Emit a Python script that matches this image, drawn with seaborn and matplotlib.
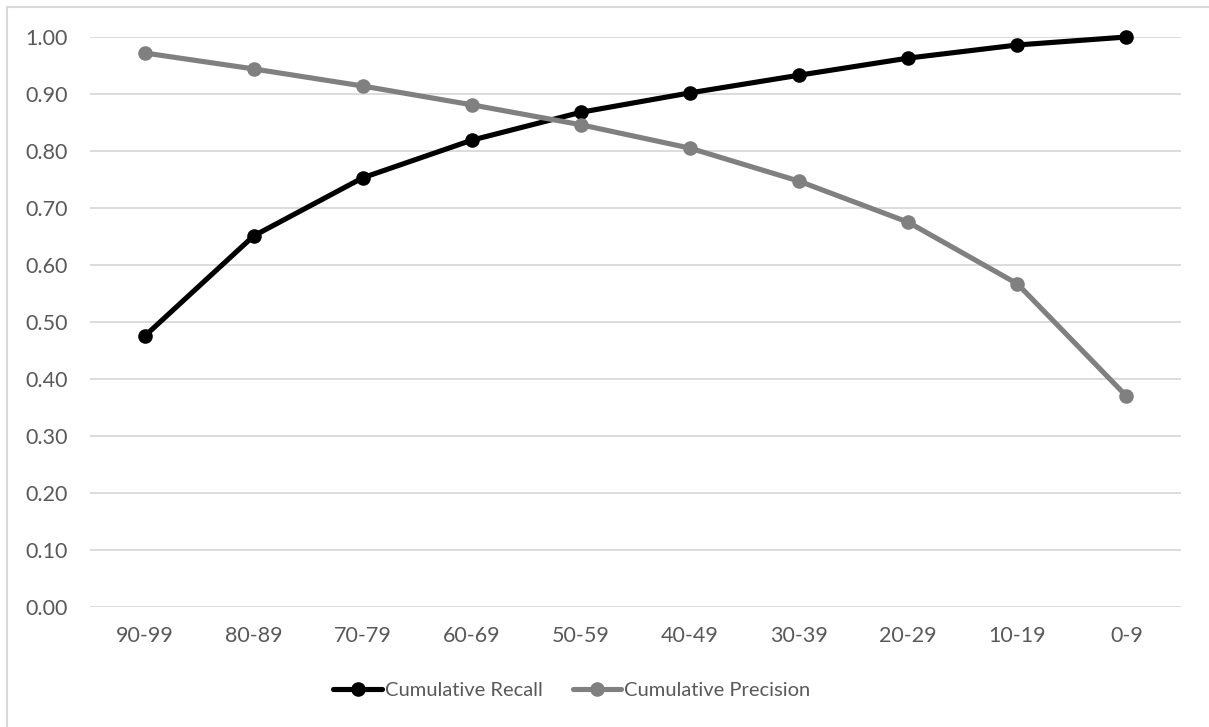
import matplotlib
matplotlib.use("Agg")
import matplotlib.pyplot as plt
import seaborn as sns
import pandas as pd
from matplotlib.patches import Rectangle

categories = ["90-99", "80-89", "70-79", "60-69", "50-59", "40-49", "30-39", "20-29", "10-19", "0-9"]
recall = [0.475, 0.651, 0.753, 0.819, 0.868, 0.902, 0.933, 0.963, 0.986, 1.000]
precision = [0.972, 0.944, 0.914, 0.881, 0.846, 0.805, 0.747, 0.675, 0.567, 0.370]
series_names = ["Cumulative Recall", "Cumulative Precision"]
yticks = [0.0, 0.1, 0.2, 0.3, 0.4, 0.5, 0.6, 0.7, 0.8, 0.9, 1.0]

df = pd.DataFrame({
    "bin": categories * 2,
    "value": recall + precision,
    "series": [series_names[0]] * len(categories) + [series_names[1]] * len(categories),
})
df["pos"] = df["bin"].map({c: i for i, c in enumerate(categories)})

sns.set_theme(style="white")
plt.rcParams["font.family"] = ["Lato", "DejaVu Sans"]

fig = plt.figure(figsize=(12.09, 7.27), dpi=100)
ax = fig.add_axes([90/1209, 1-607/727, (1181-90)/1209, (607-37)/727])

sns.lineplot(data=df, x="pos", y="value", hue="series", hue_order=series_names,
             palette={series_names[0]: "#000000", series_names[1]: "#808080"},
             marker="o", markersize=10.5, markeredgewidth=0, linewidth=3.7,
             ax=ax, sort=False, legend=True)
for ln in ax.lines:
    ln.set_clip_on(False)

ax.set_xlim(-0.5, len(categories) - 0.5)
ax.set_ylim(0, 1.0)
ax.set_xticks(range(len(categories)))
ax.set_xticklabels(categories)
ax.set_yticks(yticks)
ax.set_yticklabels([f"{t:.2f}" for t in yticks])
ax.set_xlabel("")
ax.set_ylabel("")
ax.grid(axis="y", color="#d9d9d9", linewidth=1.3)
ax.grid(axis="x", visible=False)
ax.set_axisbelow(True)
for s in ax.spines.values():
    s.set_visible(False)
ax.tick_params(axis="both", length=0, labelsize=15.5, labelcolor="#595959")
ax.tick_params(axis="x", pad=14)
ax.tick_params(axis="y", pad=16)

handles, labels = ax.get_legend_handles_labels()
ax.legend_.remove()
fig.legend(handles, labels, loc="center", bbox_to_anchor=(572/1209, 1-690/727),
           ncol=2, frameon=False, fontsize=14.5, handlelength=2.4, handletextpad=0.15,
           columnspacing=1.5, labelcolor="#595959")

fig.patches.append(Rectangle((7/1209, -0.1), 1.2, 1 - 7/727 + 0.1, transform=fig.transFigure,
                             fill=False, edgecolor="#d9d9d9", linewidth=1.5, zorder=-1))

fig.savefig("out.png", dpi=100)
